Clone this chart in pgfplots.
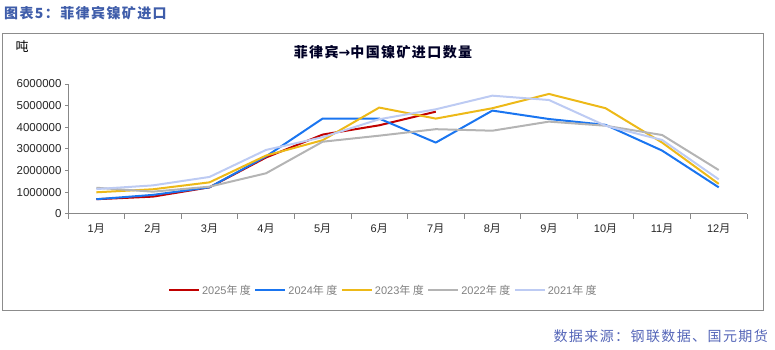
\documentclass[border=0pt]{standalone}
\usepackage{pgfplots}
\pgfplotsset{compat=1.18}
\usepackage{fontspec}
\setmainfont{Liberation Sans}
\newfontfamily\cjk{Noto Sans CJK SC}
\newfontfamily\cjksp[LetterSpace=10]{Noto Sans CJK SC}
\newfontfamily\sym{DejaVu Sans}
\definecolor{c25}{HTML}{C00000}
\definecolor{c24}{HTML}{1A75F0}
\definecolor{c23}{HTML}{EDB918}
\definecolor{c22}{HTML}{B4B4B4}
\definecolor{c21}{HTML}{BDCBF3}
\definecolor{axisgray}{HTML}{888888}
\definecolor{framegray}{HTML}{8C8C8C}
\definecolor{titleblue}{HTML}{3F5DAA}
\definecolor{srcblue}{HTML}{5566B8}
\definecolor{legtext}{HTML}{808080}
\begin{document}
\begin{tikzpicture}
\path (0,0) rectangle (775pt,-350pt);
\draw[framegray, line width=0.9pt] (2.5pt,-33.5pt) rectangle (763.3pt,-310.3pt);
\node[anchor=west, text=titleblue, font=\cjksp\bfseries\fontsize{14}{16}\selectfont, inner sep=0pt] at (4pt,-13pt) {图表5：菲律宾镍矿进口};
\node[anchor=center, font=\cjksp\bfseries\fontsize{14}{16}\selectfont, text=black!85!blue, inner sep=0pt] at (383pt,-52pt) {菲律宾{\sym\bfseries →}中国镍矿进口数量};
\node[anchor=center, font=\cjk\fontsize{13}{15}\selectfont, inner sep=0pt] at (22pt,-47pt) {吨};
\node[anchor=east, text=srcblue, font=\cjksp\fontsize{14}{16}\selectfont, inner sep=0pt] at (768pt,-336pt) {数据来源：钢联数据、国元期货};
\begin{axis}[
  at={(68pt,-213.7pt)}, anchor=south west,
  scale only axis, width=679pt, height=129.7pt,
  xmin=0.5, xmax=12.5, ymin=0, ymax=6000000,
  ytick={0,1000000,2000000,3000000,4000000,5000000,6000000},
  scaled y ticks=false,
  /pgf/number format/assume math mode=true,
  yticklabel style={/pgf/number format/fixed, /pgf/number format/1000 sep={}, font=\fontsize{11.5}{13}\selectfont, text=black!85},
  axis x line*=bottom, axis y line*=left,
  axis line style={-, draw=axisgray, line width=0.8pt},
  xtick={1,...,12},
  xticklabels={1{\cjk 月},2{\cjk 月},3{\cjk 月},4{\cjk 月},5{\cjk 月},6{\cjk 月},7{\cjk 月},8{\cjk 月},9{\cjk 月},10{\cjk 月},11{\cjk 月},12{\cjk 月}},
  xticklabel style={font=\fontsize{11}{13}\selectfont, text=black!85, yshift=-4pt},
  major x tick style={draw=none},
  minor xtick={0.5,1.5,...,12.5},
  minor tick length=5pt,
  major tick length=3pt,
  tick align=outside,
  tick style={draw=axisgray, line width=0.8pt},
  clip=false,
  legend columns=5,
  legend style={at={(0.4645,-0.59)}, anchor=center, draw=none, fill=none,
    font=\fontsize{11}{13}\selectfont, text=legtext,
    /tikz/every even column/.append style={column sep=1.5pt}},
  legend image code/.code={\draw[#1, line width=2pt] (0pt,0pt) -- (30pt,0pt);},
  every axis plot/.append style={line width=2pt, mark=none, line join=round},
]
\addplot[c25] coordinates {(1,670000) (2,790000) (3,1220000) (4,2600000) (5,3660000) (6,4090000) (7,4720000)};
\addlegendentry{2025{\cjk 年 度}}
\addplot[c24] coordinates {(1,670000) (2,870000) (3,1220000) (4,2650000) (5,4400000) (6,4400000) (7,3290000) (8,4770000) (9,4380000) (10,4110000) (11,2920000) (12,1220000)};
\addlegendentry{2024{\cjk 年 度}}
\addplot[c23] coordinates {(1,990000) (2,1130000) (3,1450000) (4,2690000) (5,3400000) (6,4910000) (7,4400000) (8,4880000) (9,5540000) (10,4880000) (11,3290000) (12,1380000)};
\addlegendentry{2023{\cjk 年 度}}
\addplot[c22] coordinates {(1,1200000) (2,1020000) (3,1250000) (4,1870000) (5,3330000) (6,3610000) (7,3910000) (8,3840000) (9,4260000) (10,4070000) (11,3640000) (12,2020000)};
\addlegendentry{2022{\cjk 年 度}}
\addplot[c21] coordinates {(1,1140000) (2,1310000) (3,1700000) (4,2950000) (5,3540000) (6,4370000) (7,4830000) (8,5460000) (9,5260000) (10,4070000) (11,3410000) (12,1590000)};
\addlegendentry{2021{\cjk 年 度}}
\end{axis}
\end{tikzpicture}
\end{document}
